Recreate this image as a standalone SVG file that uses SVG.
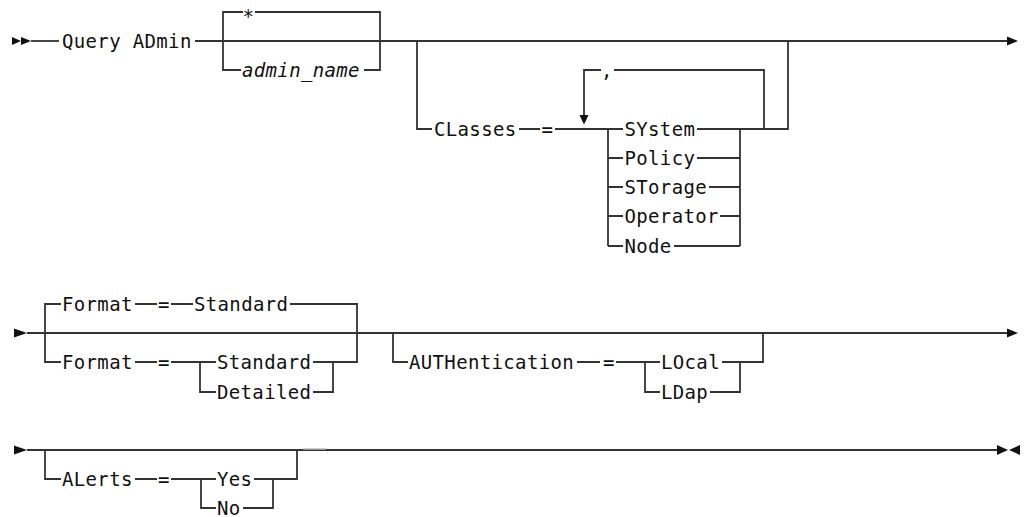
<svg xmlns="http://www.w3.org/2000/svg" width="1024" height="517" viewBox="0 0 1024 517">
<style>
.t{font-family:"DejaVu Sans Mono","Liberation Mono",monospace;font-size:19px;letter-spacing:0.35px;fill:#111}
.i{font-style:italic}
.c path,.c line{fill:none;stroke:#333;stroke-width:1.8}
.a{fill:#111}
</style>
<rect width="1024" height="517" fill="#fff"/>
<g id="connectors" class="c">
<line x1="31" y1="41" x2="59" y2="41"/>
<line x1="195" y1="41" x2="1008" y2="41"/>
<path d="M223,41 V12 H243 M255,12 H380 V41"/>
<path d="M223,41 V70 H241 M364,70 H380 V41"/>
<path d="M417,41 V129 H432 M519,129 H540 M555,129 H623"/>
<path d="M584,115 V70 H601 M614,70 H764 V129"/>
<path d="M608,129 V246"/>
<path d="M608,158 H623 M608,187 H623 M608,216 H623 M608,246 H623"/>
<path d="M697,129 H788 V41"/>
<path d="M697,158 H740 M709,187 H740 M720,216 H740 M674,246 H740"/>
<path d="M740,129 V246"/>
<line x1="27" y1="333" x2="1008" y2="333"/>
<path d="M45,333 V304 H61 M135,304 H157 M171,304 H193 M290,304 H357 V333"/>
<path d="M45,333 V362 H61 M135,362 H157 M171,362 H216"/>
<path d="M200,362 V392 H216 M313,362 H357 V333 M313,392 H333 V362"/>
<path d="M393,333 V362 H408 M577,362 H600 M616,362 H660 M645,362 V392 H660"/>
<path d="M722,362 H763 V333 M710,392 H740 V362"/>
<line x1="27" y1="450" x2="998" y2="450"/>
<path d="M45,450 V479 H61 M135,479 H157 M171,479 H216 M201,479 V508 H216"/>
<path d="M254,479 H297 V450 M243,508 H273 V479"/>
<line x1="303" y1="449" x2="326" y2="449" style="stroke:#bbb;stroke-width:1.5"/>
</g>
<g id="markers" class="a">
<polygon points="12,37 21,41 12,45"/>
<polygon points="21,37 31,41 21,45"/>
<polygon points="1007,36.5 1018,41 1007,45.5"/>
<polygon points="579.5,115 588.5,115 584,124.5"/>
<polygon points="14,328.5 27,333 14,337.5"/>
<polygon points="1007,328.5 1018,333 1007,337.5"/>
<polygon points="14,445.5 27,450 14,454.5"/>
<polygon points="997,445 1008,450 997,455"/>
<polygon points="1020,445 1009,450 1020,455"/>
</g>
<g id="n-query"><text class="t" x="62" y="48">Query ADmin</text></g>
<g id="n-star"><text class="t" x="242.5" y="23">*</text></g>
<g id="n-admin-name"><text class="t i" x="242" y="77">admin_name</text></g>
<g id="n-classes"><text class="t" x="434" y="136">CLasses</text></g>
<g id="n-classes-eq"><text class="t" x="541.5" y="136">=</text></g>
<g id="n-comma"><text class="t" x="601" y="77">,</text></g>
<g id="n-system"><text class="t" x="624.5" y="136">SYstem</text></g>
<g id="n-policy"><text class="t" x="624.5" y="165">Policy</text></g>
<g id="n-storage"><text class="t" x="624.5" y="194">STorage</text></g>
<g id="n-operator"><text class="t" x="624.5" y="223">Operator</text></g>
<g id="n-node"><text class="t" x="624.5" y="253">Node</text></g>
<g id="n-format-default"><text class="t" x="62" y="311">Format</text><text class="t" x="158" y="311">=</text><text class="t" x="194" y="311">Standard</text></g>
<g id="n-format"><text class="t" x="62" y="369">Format</text><text class="t" x="158" y="369">=</text></g>
<g id="n-standard"><text class="t" x="217" y="369">Standard</text></g>
<g id="n-detailed"><text class="t" x="217" y="399">Detailed</text></g>
<g id="n-auth"><text class="t" x="409" y="369">AUTHentication</text><text class="t" x="603" y="369">=</text></g>
<g id="n-local"><text class="t" x="661" y="369">LOcal</text></g>
<g id="n-ldap"><text class="t" x="661" y="399">LDap</text></g>
<g id="n-alerts"><text class="t" x="62" y="486">ALerts</text><text class="t" x="158" y="486">=</text></g>
<g id="n-yes"><text class="t" x="217" y="486">Yes</text></g>
<g id="n-no"><text class="t" x="217" y="515">No</text></g>
</svg>
